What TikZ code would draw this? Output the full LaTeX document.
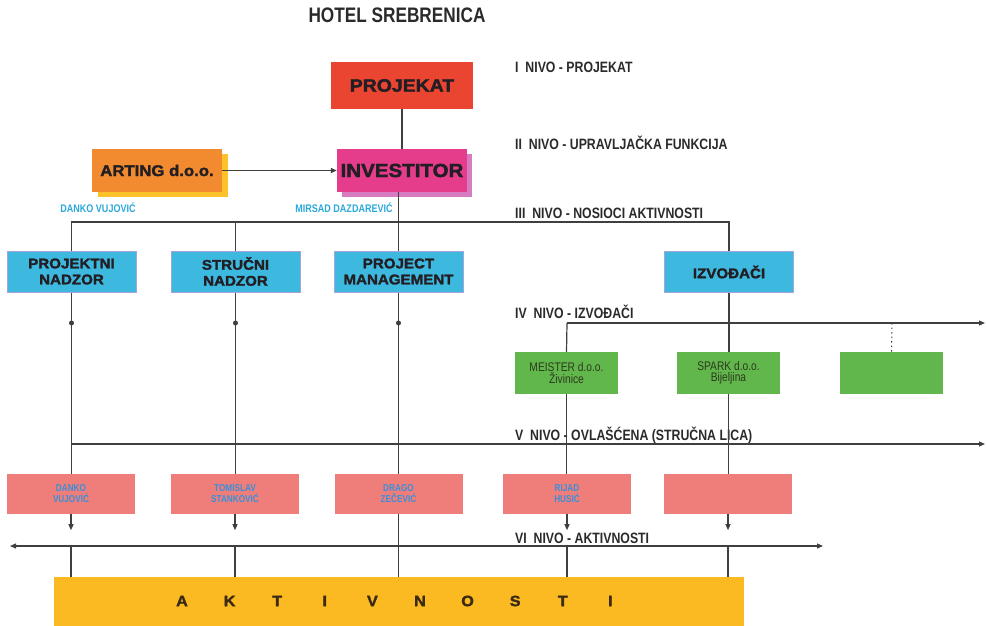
\documentclass[tikz,border=0pt]{standalone}
\usepackage{fontspec}
\setmainfont{Liberation Sans}
\newfontfamily\uska[FakeStretch=0.82]{Liberation Sans}
\newfontfamily\siroka[FakeStretch=1.08,BoldFeatures={FakeBold=2}]{Liberation Sans}
\usepackage{tikz}
\usetikzlibrary{arrows.meta}
\usetikzlibrary{shadows}
\usetikzlibrary{calc}

\definecolor{linijaboja}{HTML}{3F3F3F}
\definecolor{tekstboja}{HTML}{2A2A2A}
\definecolor{tamna}{HTML}{221E24}
\definecolor{crvena}{HTML}{EA4530}
\definecolor{magenta}{HTML}{E53C8C}
\definecolor{magentasenka}{HTML}{D77CC0}
\definecolor{narandzasta}{HTML}{F28B30}
\definecolor{zutasenka}{HTML}{FDC12A}
\definecolor{plava}{HTML}{3DB9E0}
\definecolor{plavaivica}{HTML}{A7A3DB}
\definecolor{zelena}{HTML}{62B74C}
\definecolor{zelenitekst}{HTML}{2C3A1E}
\definecolor{roza}{HTML}{EF7E7A}
\definecolor{rozatekst}{HTML}{3A8FDA}
\definecolor{zuta}{HTML}{FBBA22}
\definecolor{cijan}{HTML}{2BA8DA}
\definecolor{smedja}{HTML}{3B2A14}

\begin{document}
\begin{tikzpicture}[x=1pt,y=-1pt,
    linija/.style={draw=linijaboja,line width=1.2pt},
    strelica/.style={linija,-{Triangle[length=6pt,width=5pt]}},
    kutija/.style={rectangle,inner sep=0pt,align=center},
    crvenak/.style={kutija,fill=crvena,minimum width=142pt,minimum height=47pt,
        font=\siroka\bfseries\fontsize{18}{20}\selectfont,text=tamna},
    magentak/.style={kutija,fill=magenta,minimum width=130pt,minimum height=43pt,
        drop shadow={shadow xshift=5pt,shadow yshift=-5pt,fill=magentasenka,opacity=1},
        font=\siroka\bfseries\fontsize{19}{21}\selectfont,text=tamna},
    narandzk/.style={kutija,fill=narandzasta,minimum width=130pt,minimum height=43pt,
        drop shadow={shadow xshift=6pt,shadow yshift=-5pt,fill=zutasenka,opacity=1},
        font=\siroka\bfseries\fontsize{15.5}{18}\selectfont,text=tamna},
    plavak/.style={kutija,fill=plava,draw=plavaivica,line width=1pt,
        minimum width=129pt,minimum height=41pt,
        font=\siroka\bfseries\fontsize{14}{16}\selectfont,text=tamna},
    zelenak/.style={kutija,fill=zelena,minimum width=103pt,minimum height=42pt,
        font=\uska\fontsize{12.5}{11.5}\selectfont,text=zelenitekst},
    rozak/.style={kutija,fill=roza,minimum width=128pt,minimum height=40pt,
        font=\uska\bfseries\fontsize{10}{11}\selectfont,text=rozatekst},
    zutak/.style={kutija,fill=zuta,minimum width=690pt,minimum height=49pt},
    slovo/.style={font=\siroka\bfseries\fontsize{15}{17}\selectfont,text=smedja},
    ime/.style={font=\uska\bfseries\fontsize{11}{13}\selectfont,text=cijan},
    nivo/.style={anchor=west,inner sep=0pt,font=\uska\bfseries\fontsize{15}{17}\selectfont,text=tekstboja},
    naslov/.style={font=\uska\bfseries\fontsize{21}{23}\selectfont,text=tekstboja}
]
\useasboundingbox (0,0) rectangle (987,625);

% naslov i nivoi
\node[naslov] (naslov) at (397,15) {HOTEL SREBRENICA};
\node[nivo] (nivo1) at (515,67) {I\ \ NIVO - PROJEKAT};
\node[nivo] (nivo2) at (515,143) {II\ \ NIVO - UPRAVLJAČKA FUNKCIJA};
\node[nivo] (nivo3) at (515,213) {III\ \ NIVO - NOSIOCI AKTIVNOSTI};
\node[nivo] (nivo4) at (515,312) {IV\ \ NIVO - IZVOĐAČI};
\node[nivo] (nivo5) at (515,435) {V\ \ NIVO - OVLAŠĆENA (STRUČNA LICA)};
\node[nivo] (nivo6) at (515,538) {VI\ \ NIVO - AKTIVNOSTI};

% I i II nivo
\node[crvenak] (projekat) at (402,85.5) {PROJEKAT};
\node[magentak] (investitor) at (402,170.5) {INVESTITOR};
\node[narandzk] (arting) at (157,170.5) {ARTING d.o.o.};
\node[ime] (imeArting) at (98,208) {DANKO VUJOVIĆ};
\node[ime] (imeInvestitor) at (344,208) {MIRSAD DAZDAREVIĆ};

% III nivo
\node[plavak] (pnadzor) at (71.5,271.5) {PROJEKTNI\\NADZOR};
\node[plavak] (snadzor) at (235.5,271.5) {STRUČNI\\NADZOR};
\node[plavak] (pmanag) at (398.5,271.5) {PROJECT\\MANAGEMENT};
\node[plavak] (izvodjaci) at (729,272) {IZVOĐAČI};

% IV nivo
\node[zelenak] (meister) at (566.5,373) {MEISTER d.o.o.\\Živinice};
\node[zelenak] (spark) at (728.5,373) {SPARK d.o.o.\\Bijeljina};
\node[zelenak] (prazanz) at (891.5,373) {};

% V nivo
\node[rozak] (danko) at (71,494) {DANKO\\VUJOVIĆ};
\node[rozak] (tomislav) at (235,494) {TOMISLAV\\STANKOVIĆ};
\node[rozak] (drago) at (398.5,494) {DRAGO\\ZEČEVIĆ};
\node[rozak] (rijad) at (567,494) {RIJAD\\HUSIĆ};
\node[rozak] (prazanr) at (728,494) {};

% VI nivo
\node[zutak] (aktivnosti) at (399,601.5) {};
\foreach \s [count=\i] in {A,K,T,I,V,N,O,S,T,I}
    \node[slovo] (s\i) at ({182+47.6*(\i-1)},601) {\s};

\coordinate (nivoIII) at (0,222);
\coordinate (nivoIV) at (0,323);
\coordinate (nivoVI) at (0,546);
\coordinate (ivPocetak) at (567,323);
\coordinate (ivKraj) at (985,323);
\coordinate (tackasti) at (892,323);
\coordinate (vPocetak) at (71,444);
\coordinate (vKraj) at (985,444);
\coordinate (viLevo) at (10,546);
\coordinate (viDesno) at (823,546);

% veze
\draw[linija] (projekat) -- (investitor);
\draw[strelica] (arting) -- (investitor);
\draw[linija] (investitor.south -| pmanag) -- (pmanag.north);
\draw[linija] (pnadzor.north) |- (nivoIII -| izvodjaci) -- (izvodjaci.north);
\draw[linija] (nivoIII -| snadzor) -- (snadzor.north);

\foreach \a/\b in {pnadzor/danko,snadzor/tomislav,pmanag/drago} {
    \draw[linija] (\a.south) -- (\a.south |- \b.north);
    \fill[linijaboja] (\a.south |- nivoIV) circle (2.5);
}

\draw[strelica] (ivPocetak) -- (ivKraj);
\draw[linija] (ivPocetak) -- (meister.north);
\draw[linija] (izvodjaci.south) -- (izvodjaci.south |- spark.north);
\draw[linija,line width=1pt,dash pattern=on 1.5pt off 3pt] (tackasti) -- (prazanz.north);

\draw[strelica] (vPocetak) -- (vKraj);
\draw[linija] (meister.south) -- (meister.south |- rijad.north);
\draw[linija] (spark.south) -- (spark.south |- prazanr.north);

\draw[linija,{Triangle[length=6pt,width=5pt]}-{Triangle[length=6pt,width=5pt]}] (viLevo) -- (viDesno);
\foreach \b in {danko,tomislav,rijad,prazanr} {
    \draw[strelica] (\b.south) -- ++(0,16);
    \draw[linija] (\b.south |- nivoVI) -- (\b.south |- aktivnosti.north);
}
\draw[linija] (drago.south) -- (drago.south |- aktivnosti.north);
\end{tikzpicture}
\end{document}
